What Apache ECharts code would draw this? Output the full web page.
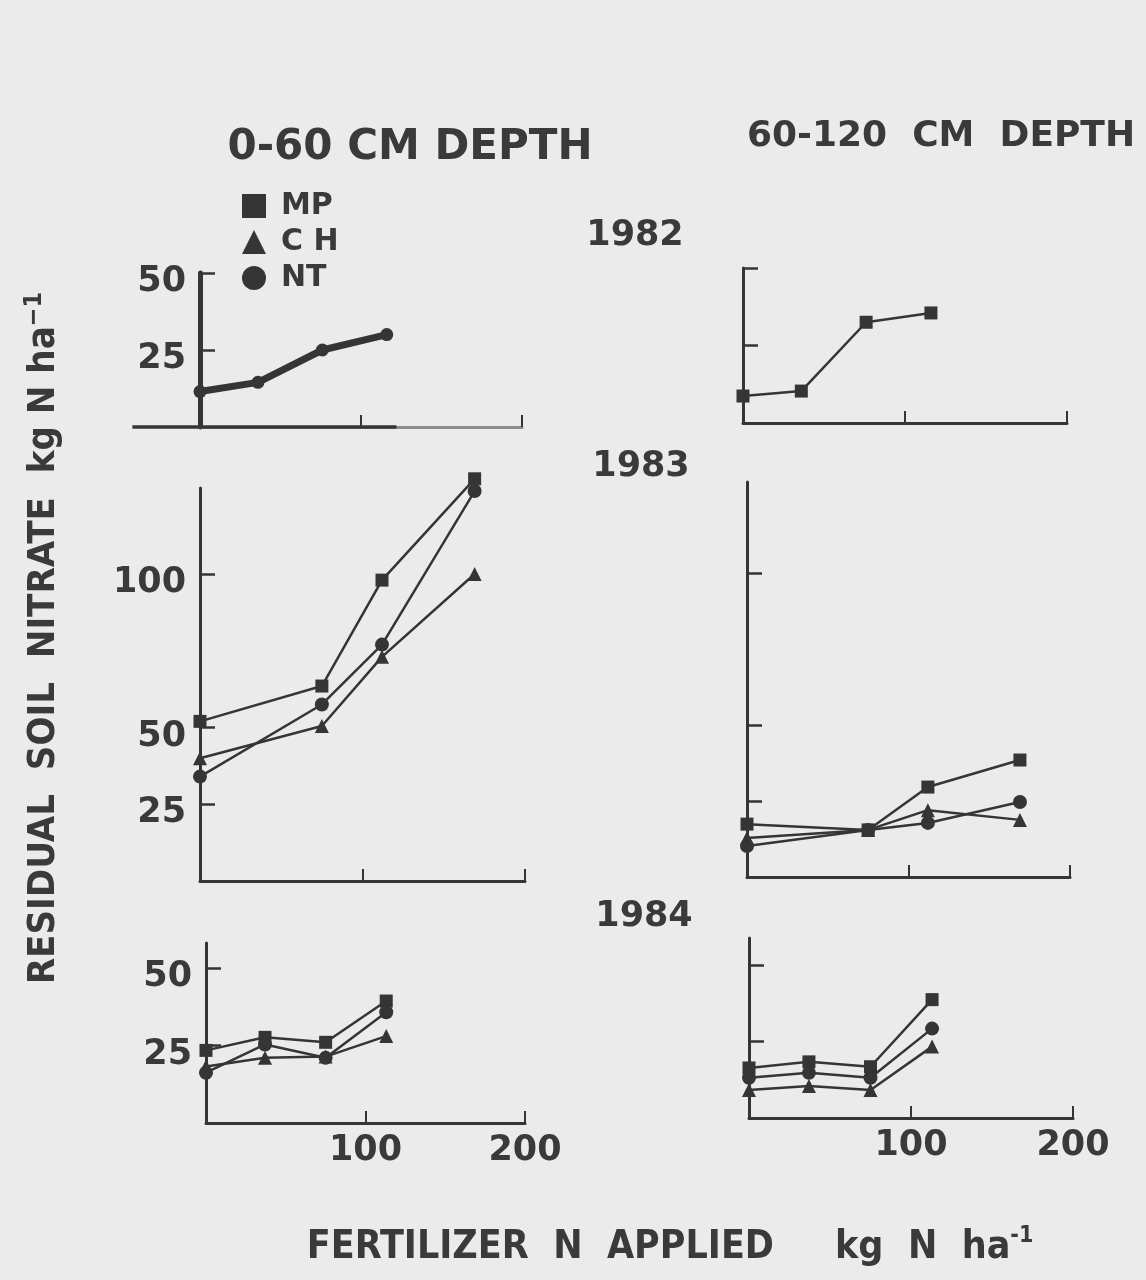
<!DOCTYPE html>
<html>
<head>
<meta charset="utf-8">
<title>Residual soil nitrate</title>
<script src="https://cdn.jsdelivr.net/npm/echarts@6/dist/echarts.min.js"></script>
<style>
  html, body { margin: 0; padding: 0; background: #ebebeb; }
  #chart { width: 1146px; height: 1280px; }
</style>
</head>
<body>
<div id="chart"></div>
<script>
// Fertilizer N rates (kg N/ha) sampled each year
const rates1982 = [0, 36, 76, 116];
const rates1983 = [0, 75, 112, 169];
const rates1984 = [0, 37, 75, 113];

// Residual soil nitrate (kg N/ha), 0-60 cm
const top1982All = [11.5, 14.5, 25, 30];
const top1983MP = [52, 63.5, 98, 131];
const top1983CH = [40, 50.5, 73, 100];
const top1983NT = [34, 57.5, 77, 127];
const top1984MP = [23.4, 27.6, 26, 39.3];
const top1984CH = [18.2, 21, 21.4, 28];
const top1984NT = [16.2, 25.3, 21, 35.7];

// Residual soil nitrate (kg N/ha), 60-120 cm
const sub1982MP = [8.7, 10.3, 32.5, 35.5];
const sub1983MP = [17.4, 15.5, 29.6, 38.5];
const sub1983CH = [12.8, 15.5, 22, 18.8];
const sub1983NT = [10.2, 15.5, 17.8, 24.7];
const sub1984MP = [16.4, 18.4, 16.8, 38.8];
const sub1984CH = [9.2, 10.5, 9.2, 23.4];
const sub1984NT = [13.2, 14.8, 13.2, 29.3];

// Axis ticks
const xTicks = [100, 200];
const yTicksSmall = [25, 50];
const yTicksLarge = [25, 50, 100];

const INK = '#353535';
const FONT = "'DejaVu Sans', sans-serif";
const COND = "'DejaVu Sans Condensed', 'Liberation Sans Narrow', 'DejaVu Sans', sans-serif";

const pair = (xs, ys) => xs.map((x, i) => [x, ys[i]]);
const SYMBOLS = { MP: 'rect', CH: 'triangle', NT: 'circle' };
const SIZES = { MP: 13, CH: 14, NT: 14 };

const panels = [
  { box: { left: 200, top: 273, width: 322, height: 154 }, yMax: 50, yTicks: yTicksSmall, yLab: true,  xLab: false,
    lines: [{ name: 'ALL', rates: rates1982, vals: top1982All, heavy: true }] },
  { box: { left: 743, top: 268, width: 324, height: 155 }, yMax: 50, yTicks: yTicksSmall, yLab: false, xLab: false,
    lines: [{ name: 'MP', rates: rates1982, vals: sub1982MP }] },
  { box: { left: 200, top: 488, width: 325, height: 393 }, yMax: 128, yTicks: yTicksLarge, yLab: true, xLab: false,
    lines: [{ name: 'MP', rates: rates1983, vals: top1983MP },
            { name: 'CH', rates: rates1983, vals: top1983CH },
            { name: 'NT', rates: rates1983, vals: top1983NT }] },
  { box: { left: 747, top: 482, width: 323, height: 395 }, yMax: 130, yTicks: yTicksLarge, yLab: false, xLab: false,
    lines: [{ name: 'MP', rates: rates1983, vals: sub1983MP },
            { name: 'CH', rates: rates1983, vals: sub1983CH },
            { name: 'NT', rates: rates1983, vals: sub1983NT }] },
  { box: { left: 206, top: 943, width: 319, height: 180 }, yMax: 58, yTicks: yTicksSmall, yLab: true, xLab: true,
    lines: [{ name: 'MP', rates: rates1984, vals: top1984MP },
            { name: 'CH', rates: rates1984, vals: top1984CH },
            { name: 'NT', rates: rates1984, vals: top1984NT }] },
  { box: { left: 749, top: 938, width: 324, height: 180 }, yMax: 59, yTicks: yTicksSmall, yLab: false, xLab: true,
    lines: [{ name: 'MP', rates: rates1984, vals: sub1984MP },
            { name: 'CH', rates: rates1984, vals: sub1984CH },
            { name: 'NT', rates: rates1984, vals: sub1984NT }] }
];

const grid = [], xAxis = [], yAxis = [], series = [];
panels.forEach((p, i) => {
  grid.push(Object.assign({ containLabel: false }, p.box));
  xAxis.push({
    type: 'value', gridIndex: i, min: 0, max: 200,
    axisLine: { onZero: false, lineStyle: { color: i === 0 ? '#8e8e8e' : INK, width: 3 } },
    axisTick: { show: true, inside: true, length: 12, customValues: xTicks, lineStyle: { color: INK, width: 2 } },
    axisLabel: { show: p.xLab, customValues: xTicks, margin: 10, color: '#3a3a3a',
                 fontFamily: FONT, fontWeight: 'bold', fontSize: 35 },
    splitLine: { show: false }
  });
  yAxis.push({
    type: 'value', gridIndex: i, min: 0, max: p.yMax,
    axisLine: { show: true, lineStyle: { color: INK, width: i === 0 ? 5 : 3 } },
    axisTick: { show: true, inside: true, length: 15, customValues: p.yTicks, lineStyle: { color: INK, width: 2.5 } },
    axisLabel: { show: p.yLab, customValues: p.yTicks, margin: 14, color: '#3a3a3a',
                 verticalAlign: 'top', lineHeight: 18,
                 fontFamily: FONT, fontWeight: 'bold', fontSize: 35 },
    splitLine: { show: false }
  });
  p.lines.forEach(l => {
    series.push({
      type: 'line', name: l.name, xAxisIndex: i, yAxisIndex: i,
      data: pair(l.rates, l.vals), clip: false, silent: true, animation: false,
      color: INK,
      lineStyle: { color: INK, width: l.heavy ? 7 : 2.5 },
      itemStyle: { color: INK },
      symbol: l.heavy ? 'circle' : SYMBOLS[l.name],
      symbolSize: l.heavy ? 13 : SIZES[l.name],
      showSymbol: true, z: 3
    });
  });
});

const txt = (x, y, text, size, extra) => ({
  type: 'text', x, y, silent: true,
  style: Object.assign({ text, fill: '#3a3a3a', font: `bold ${size}px ${FONT}`,
                         align: 'center', verticalAlign: 'middle' }, extra || {})
});

const graphic = [
  txt(410, 148, '0-60 CM DEPTH', 42),
  txt(941, 137, '60-120  CM  DEPTH', 36),
  txt(635, 236, '1982', 35),
  txt(641, 467, '1983', 35),
  txt(644, 917, '1984', 35),
  {
    type: 'text', x: 44, y: 638, rotation: Math.PI / 2, silent: true,
    style: {
      text: '{m|RESIDUAL  SOIL  NITRATE  kg N ha}{s|−1}',
      align: 'center', verticalAlign: 'middle', fill: '#3a3a3a',
      rich: {
        m: { fontFamily: COND, fontWeight: 'bold', fontSize: 38, lineHeight: 44, fill: '#3a3a3a' },
        s: { fontFamily: COND, fontWeight: 'bold', fontSize: 25, lineHeight: 24, verticalAlign: 'top', fill: '#3a3a3a' }
      }
    }
  },
  {
    type: 'text', x: 670, y: 1248, silent: true,
    style: {
      text: '{m|FERTILIZER  N  APPLIED     kg  N  ha}{s|-1}',
      align: 'center', verticalAlign: 'middle', fill: '#3a3a3a',
      rich: {
        m: { fontFamily: COND, fontWeight: 'bold', fontSize: 39, lineHeight: 46, fill: '#3a3a3a' },
        s: { fontFamily: COND, fontWeight: 'bold', fontSize: 23, lineHeight: 22, verticalAlign: 'top', fill: '#3a3a3a' }
      }
    }
  }
];

const option = {
  backgroundColor: '#ebebeb',
  animation: false,
  grid, xAxis, yAxis, series,
  legend: {
    orient: 'vertical', left: 237, top: 186,
    itemWidth: 24, itemHeight: 24, itemGap: 6, selectedMode: false,
    formatter: n => (n === 'CH' ? 'C H' : n),
    textStyle: { color: '#3a3a3a', fontFamily: FONT, fontWeight: 'bold', fontSize: 30, lineHeight: 24,
                 padding: [0, 0, 0, 10] },
    data: [{ name: 'MP', icon: 'rect' }, { name: 'CH', icon: 'triangle' }, { name: 'NT', icon: 'circle' }]
  },
  graphic
};

const chart = echarts.init(document.getElementById('chart'), null, { renderer: 'canvas' });
chart.setOption(option);

// The 1982 0-60 cm baseline is inked darker (and a little past the y axis) up to ~120 kg N/ha
const a = chart.convertToPixel({ gridIndex: 0 }, [-42, 0]);
const b = chart.convertToPixel({ gridIndex: 0 }, [122, 0]);
chart.setOption({
  graphic: graphic.concat([{
    type: 'line', silent: true, z: 10,
    shape: { x1: a[0], y1: a[1], x2: b[0], y2: b[1] },
    style: { stroke: INK, lineWidth: 3.5 }
  }])
});
</script>
</body>
</html>
